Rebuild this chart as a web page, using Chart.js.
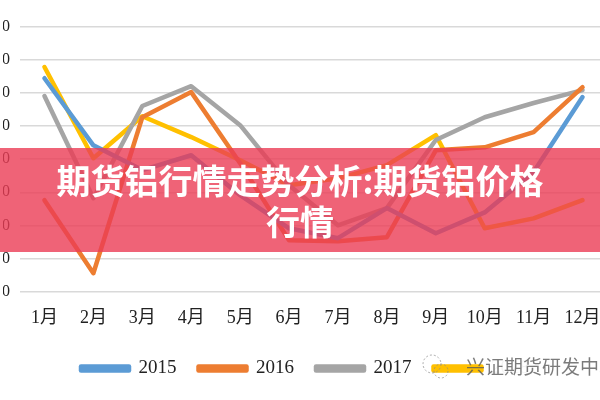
<!DOCTYPE html>
<html>
<head>
<meta charset="utf-8">
<script src="https://cdn.jsdelivr.net/npm/chart.js@4/dist/chart.umd.min.js"></script>
<style>
  html, body { margin: 0; padding: 0; background: #fff; overflow: hidden; }
  #wrap { position: absolute; left: -37px; top: 0; width: 680px; height: 400px; }
</style>
</head>
<body>
<div id="wrap"><canvas id="c"></canvas></div>
<script>
// canvas is shifted left so the y labels get cropped like in the picture
const OFFSET = 37;

const months = ["1月", "2月", "3月", "4月", "5月", "6月", "7月", "8月", "9月", "10月", "11月", "12月"];
const seriesNames = ["2015", "2016", "2017", "2018"];
const s2015 = [16450, 14420, 13670, 14120, 12910, 11910, 11610, 12520, 11760, 12390, 13610, 15880];
const s2016 = [12760, 10550, 15270, 16030, 13880, 11550, 11520, 11640, 14270, 14360, 14820, 16180];
const s2017 = [15910, 12820, 15610, 16210, 15030, 13210, 12000, 12520, 14580, 15270, 15700, 16090];
const s2018 = [16790, 14030, 15300, 14670, 13970, 13210, 13420, 13820, 14730, 11910, 12210, 12760];
const colors = ["#5B9BD5", "#ED7D31", "#A5A5A5", "#FFC000"];
const yMin = 10000, yMax = 18000, yStep = 1000;
const titleLines = ["期货铝行情走势分析:期货铝价格", "行情"];
const watermark = "兴证期货研发中心";

const overlay = {
  id: "overlay",
  afterDraw(chart) {
    const ctx = chart.ctx;
    ctx.save();
    ctx.translate(OFFSET, 0);
    // red banner over the lines
    ctx.fillStyle = "rgba(235, 60, 85, 0.8)";
    ctx.fillRect(0, 148, 600, 104);
    ctx.fillStyle = "#fff";
    ctx.font = 'bold 34px "Noto Sans CJK SC"';
    ctx.textAlign = "center";
    ctx.textBaseline = "middle";
    ctx.fillText(titleLines[0], 300, 181);
    ctx.fillText(titleLines[1], 300, 222);

    // watermark over the last legend entry
    ctx.fillStyle = "rgba(255,255,255,0.95)";
    ctx.fillRect(488, 352, 150, 30);
    ctx.strokeStyle = "rgba(140,140,140,0.7)";
    ctx.lineWidth = 1;
    ctx.setLineDash([2, 2]);
    ctx.beginPath();
    ctx.arc(432, 364, 9, 0, Math.PI * 2);
    ctx.stroke();
    ctx.beginPath();
    ctx.arc(441, 371, 7, 0, Math.PI * 2);
    ctx.stroke();
    ctx.setLineDash([]);
    ctx.fillStyle = "rgba(90,90,90,0.8)";
    ctx.font = '19px "Noto Sans CJK SC"';
    ctx.textAlign = "left";
    ctx.fillText(watermark, 466, 367);
    ctx.restore();
  }
};

const data = {
  labels: months,
  datasets: [s2015, s2016, s2017, s2018].map((vals, i) => ({
    label: seriesNames[i],
    data: vals,
    borderColor: colors[i],
    backgroundColor: colors[i],
    borderWidth: 4.5,
    pointRadius: 0,
    tension: 0,
    borderCapStyle: "round",
    borderJoinStyle: "round",
  })),
};

new Chart(document.getElementById("c"), {
  type: "line",
  data,
  options: {
    responsive: true,
    maintainAspectRatio: false,
    animation: false,
    layout: { padding: { top: 27, right: 36, bottom: 12, left: 40 } },
    plugins: {
      legend: {
        position: "bottom",
        labels: {
          boxWidth: 48,
          boxHeight: 4,
          padding: 22,
          color: "#222",
          font: { family: '"Liberation Serif", "Noto Sans CJK SC"', size: 19 },
        },
      },
      tooltip: { enabled: false },
    },
    scales: {
      x: {
        offset: true,
        grid: { display: false },
        border: { display: false },
        ticks: {
          color: "#222",
          padding: 8,
          maxRotation: 0,
          font: { family: '"Liberation Serif", "Noto Sans CJK SC"', size: 18 },
        },
      },
      y: {
        min: yMin,
        max: yMax,
        afterFit(scale) { scale.width = 17; },
        grid: { color: "#d9d9d9", lineWidth: 1.5, drawTicks: false },
        border: { display: false },
        ticks: {
          stepSize: yStep,
          padding: 10,
          color: "#222",
          font: { family: '"Liberation Serif"', size: 16 },
        },
      },
    },
  },
  plugins: [overlay],
});
</script>
</body>
</html>
